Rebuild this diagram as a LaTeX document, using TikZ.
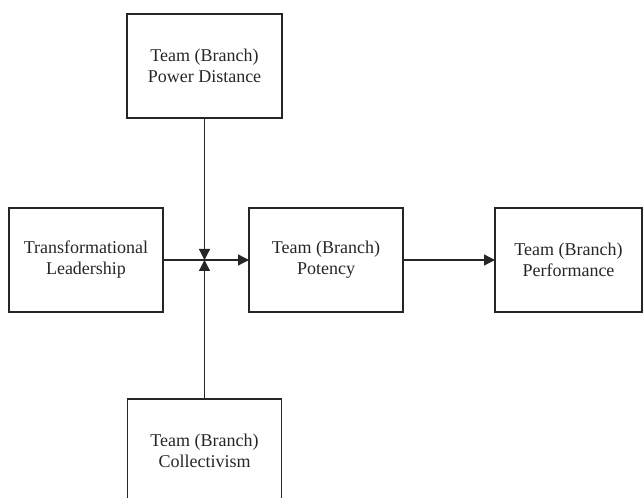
\documentclass[tikz,border=0pt]{standalone}
\usepackage{fontspec}
\setmainfont{Liberation Serif}
\usetikzlibrary{arrows.meta}
\begin{document}
\begin{tikzpicture}[>={Triangle[length=5.5pt,width=5.5pt]},x=.5pt,y=.5pt,
  blok/.style={draw=black!85,line width=.65pt,minimum height=52pt,inner sep=0pt,outer sep=0pt,align=center,text=black!85,font=\fontsize{9}{10.5}\selectfont},
  link/.style={draw=black!85,line width=.65pt}]
\useasboundingbox (0,0) rectangle (643,498);
\node[blok,minimum width=77.5pt] (pd) at (204.5,432) {Team (Branch)\\Power Distance};
\node[blok,minimum width=77pt] (tl) at (86,238) {Transformational\\Leadership};
\node[blok,minimum width=77pt] (pot) at (326,238) {Team (Branch)\\Potency};
\node[blok,minimum width=73.5pt] (perf) at (568.5,238) {Team (Branch)\\Performance};
\node[blok,minimum width=77pt] (col) at (204.5,47) {Team (Branch)\\Collectivism};
\coordinate (j) at (204.5,238);
\draw[link,->] (tl) -- (pot);
\draw[link,->] (pot) -- (perf);
\draw[link,->] (pd) -- (j);
\draw[link,->] (col) -- (j);
\end{tikzpicture}
\end{document}
